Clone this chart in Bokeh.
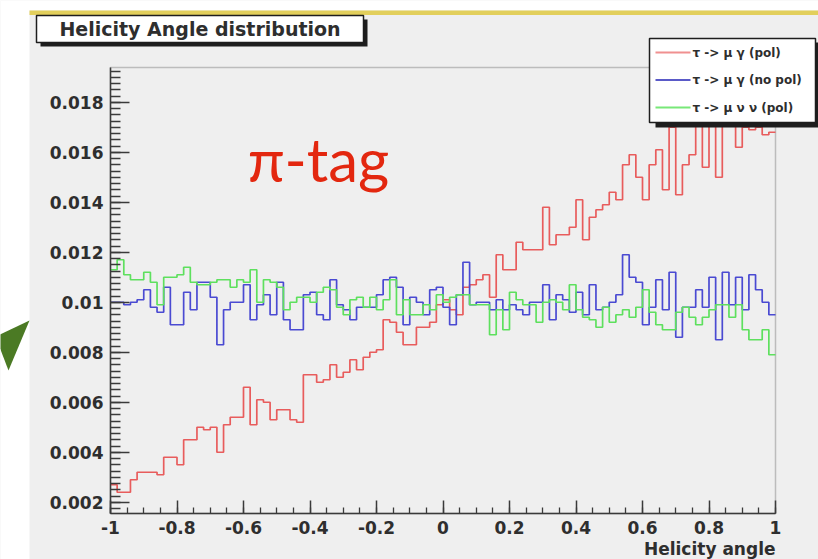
from bokeh.plotting import figure
from bokeh.models import (Range1d, FixedTicker, CustomJSTickFormatter, BoxAnnotation,
                          Label, PolyAnnotation)
from bokeh.embed import file_html
from bokeh.resources import INLINE

# Helicity angle histograms, 100 bins on [-1, 1], normalised to unit area
n_bins = 100
x_lo, x_hi = -1.0, 1.0
y_lo, y_hi = 0.00155, 0.01939

mu_gamma_pol = [
    0.0027, 0.0024, 0.0024, 0.0029, 0.0032, 0.0032, 0.0032, 0.0031, 0.0038, 0.0038,
    0.0035, 0.0045, 0.0045, 0.0050, 0.0049, 0.0050, 0.0040, 0.0051, 0.0054, 0.0054,
    0.0066, 0.0051, 0.0061, 0.0060, 0.0053, 0.0057, 0.0057, 0.0053, 0.0052, 0.0071,
    0.0071, 0.0068, 0.0069, 0.0075, 0.0070, 0.0072, 0.0077, 0.0073, 0.0078, 0.0080,
    0.0081, 0.0093, 0.0092, 0.0088, 0.0083, 0.0083, 0.0090, 0.0090, 0.0092, 0.0099,
    0.0101, 0.0097, 0.0095, 0.0106, 0.0107, 0.0109, 0.0111, 0.0102, 0.0119, 0.0113,
    0.0113, 0.0124, 0.0121, 0.0121, 0.0121, 0.0138, 0.0123, 0.0127, 0.0127, 0.0130,
    0.0141, 0.0125, 0.0134, 0.0137, 0.0139, 0.0144, 0.0141, 0.0155, 0.0159, 0.0150,
    0.0141, 0.0155, 0.0161, 0.0145, 0.0170, 0.0143, 0.0155, 0.0159, 0.0172, 0.0154,
    0.0174, 0.0150, 0.0178, 0.0176, 0.0162, 0.0170, 0.0169, 0.0170, 0.0167, 0.0168,
]

mu_gamma_nopol = [
    0.0100, 0.0100, 0.0099, 0.0100, 0.0101, 0.0105, 0.0098, 0.0096, 0.0106, 0.0091,
    0.0091, 0.0104, 0.0097, 0.0108, 0.0108, 0.0102, 0.0083, 0.0097, 0.0100, 0.0100,
    0.0107, 0.0093, 0.0099, 0.0103, 0.0095, 0.0108, 0.0093, 0.0089, 0.0089, 0.0103,
    0.0104, 0.0095, 0.0093, 0.0109, 0.0099, 0.0097, 0.0093, 0.0098, 0.0098, 0.0098,
    0.0103, 0.0109, 0.0110, 0.0106, 0.0091, 0.0102, 0.0100, 0.0095, 0.0105, 0.0106,
    0.0098, 0.0091, 0.0103, 0.0116, 0.0099, 0.0100, 0.0100, 0.0097, 0.0101, 0.0097,
    0.0099, 0.0097, 0.0095, 0.0100, 0.0100, 0.0107, 0.0093, 0.0103, 0.0101, 0.0096,
    0.0104, 0.0095, 0.0107, 0.0097, 0.0098, 0.0100, 0.0103, 0.0119, 0.0110, 0.0108,
    0.0091, 0.0098, 0.0109, 0.0097, 0.0112, 0.0086, 0.0098, 0.0098, 0.0105, 0.0098,
    0.0110, 0.0085, 0.0112, 0.0099, 0.0110, 0.0097, 0.0111, 0.0105, 0.0100, 0.0095,
]

mu_nunu_pol = [
    0.0113, 0.0117, 0.0111, 0.0109, 0.0109, 0.0112, 0.0108, 0.0099, 0.0110, 0.0110,
    0.0111, 0.0114, 0.0108, 0.0107, 0.0107, 0.0108, 0.0109, 0.0109, 0.0106, 0.0109,
    0.0108, 0.0113, 0.0100, 0.0109, 0.0108, 0.0106, 0.0097, 0.0100, 0.0102, 0.0102,
    0.0100, 0.0104, 0.0106, 0.0105, 0.0098, 0.0095, 0.0101, 0.0102, 0.0098, 0.0102,
    0.0097, 0.0101, 0.0109, 0.0095, 0.0101, 0.0095, 0.0095, 0.0099, 0.0097, 0.0103,
    0.0100, 0.0102, 0.0103, 0.0103, 0.0099, 0.0099, 0.0099, 0.0087, 0.0097, 0.0089,
    0.0104, 0.0101, 0.0099, 0.0099, 0.0092, 0.0100, 0.0101, 0.0100, 0.0097, 0.0107,
    0.0097, 0.0094, 0.0093, 0.0090, 0.0098, 0.0092, 0.0095, 0.0097, 0.0094, 0.0098,
    0.0105, 0.0096, 0.0091, 0.0089, 0.0089, 0.0096, 0.0098, 0.0094, 0.0091, 0.0094,
    0.0097, 0.0099, 0.0099, 0.0094, 0.0099, 0.0089, 0.0085, 0.0085, 0.0089, 0.0079,
]

series_labels = ["\u03c4 -> \u03bc \u03b3 (pol)",
                 "\u03c4 -> \u03bc \u03b3 (no pol)",
                 "\u03c4 -> \u03bc \u03bd \u03bd (pol)"]
series_colors = ["#e85c5c", "#4a4ad2", "#5ee05e"]
legend_colors = ["#f09090", "#5a5ac8", "#78e878"]

x_ticks = [-1.0, -0.8, -0.6, -0.4, -0.2, 0.0, 0.2, 0.4, 0.6, 0.8, 1.0]
y_ticks = [0.002, 0.004, 0.006, 0.008, 0.010, 0.012, 0.014, 0.016, 0.018]

edges = [x_lo + (x_hi - x_lo) * i / n_bins for i in range(n_bins + 1)]

# page geometry: the canvas is one big frame, the histogram pad sits inside it
W, H = 818, 559
PAD_L, PAD_R, PAD_T, PAD_B = 110, 775, 67, 513
sx = (PAD_R - PAD_L) / (x_hi - x_lo)
sy = (PAD_B - PAD_T) / (y_hi - y_lo)
view_x = (x_lo - PAD_L / sx, x_hi + (W - PAD_R) / sx)
view_y = (y_lo - (H - PAD_B) / sy, y_hi + PAD_T / sy)

BG = "#efefef"
TXT = "#2e2e2e"
AX = "#3a3a3a"
FONT = "DejaVu Sans"

p = figure(width=W, height=H,
           x_range=Range1d(*view_x), y_range=Range1d(*view_y),
           output_backend="svg", toolbar_location=None,
           min_border_left=0, min_border_right=0,
           min_border_top=0, min_border_bottom=0)
p.background_fill_color = BG
p.border_fill_color = BG
p.outline_line_color = None
p.grid.visible = False

# histogram outlines
for vals, col in zip([mu_gamma_pol, mu_gamma_nopol, mu_nunu_pol], series_colors):
    p.step(edges, vals + [vals[-1]], mode="after", line_color=col, line_width=1.7)

# pad frame (top and right edges visible; left and bottom carry the axes)
p.add_layout(BoxAnnotation(left=x_lo, right=x_hi, bottom=y_lo, top=y_hi,
                           fill_alpha=0.0, line_color="#474747", line_width=1.5,
                           level="underlay"))

# axes in the ROOT style: ticks pointing into the pad
p.xaxis.fixed_location = y_lo
p.yaxis.fixed_location = x_lo
p.xaxis.bounds = (x_lo, x_hi)
p.yaxis.bounds = (y_lo, y_hi)
p.xaxis.ticker = FixedTicker(ticks=x_ticks,
                             minor_ticks=[x_lo + 0.05 * i for i in range(41)])
p.yaxis.ticker = FixedTicker(ticks=y_ticks,
                             minor_ticks=[0.00175 + 0.00025 * i for i in range(71)])
p.xaxis.formatter = CustomJSTickFormatter(code="return String(Math.round(tick*10)/10);")
p.yaxis.formatter = CustomJSTickFormatter(code="return String(Math.round(tick*1000)/1000);")

for ax in (p.xaxis, p.yaxis):
    ax.axis_line_color = AX
    ax.axis_line_width = 1.5
    ax.major_tick_line_color = AX
    ax.minor_tick_line_color = AX
    ax.major_tick_line_width = 1.5
    ax.minor_tick_line_width = 1.3
    ax.major_tick_out = 0
    ax.minor_tick_out = 0
    ax.major_label_text_font = FONT
    ax.major_label_text_font_style = "bold"
    ax.major_label_text_font_size = "17px"
    ax.major_label_text_color = TXT

p.yaxis.major_tick_in = 19
p.yaxis.minor_tick_in = 10
p.yaxis.major_label_standoff = 7
p.xaxis.major_tick_in = 13
p.xaxis.minor_tick_in = 6
p.xaxis.major_label_standoff = 7


def box(l, t, r, b, fill, line=None, lw=1.5, level="annotation"):
    bx = BoxAnnotation(left=l, right=r, top=t, bottom=b,
                       left_units="canvas", right_units="canvas",
                       top_units="canvas", bottom_units="canvas",
                       fill_color=fill, fill_alpha=1.0,
                       line_color=line, line_width=lw, line_alpha=1.0 if line else 0.0,
                       level=level)
    p.add_layout(bx)


def label(x, y, text, size, align="left", color=TXT, font=FONT, style="bold",
          baseline="middle"):
    p.add_layout(Label(x=x, y=y, x_units="canvas", y_units="canvas", text=text,
                       text_font=font, text_font_style=style, text_font_size=size,
                       text_color=color, text_align=align, text_baseline=baseline))


# surrounding page: white margin, yellow rule, green arrow head
box(0, 0, 29, H, "#ffffff")
box(0, 0, W, 10, "#ffffff")
box(29, 10, W, 14.5, "#e2cf5c")
p.add_layout(PolyAnnotation(xs=[-5, 29, 8], ys=[336, 320, 370],
                            xs_units="canvas", ys_units="canvas",
                            fill_color="#4b7a24", fill_alpha=1.0, line_alpha=0.0))

# title box with drop shadow
box(40, 19, 367, 46, "#1e1e1e")
box(36, 15, 363, 42, "#ffffff", line="#1e1e1e")
label(199.5, 28.5, "Helicity Angle distribution", "19px", align="center")

# legend box with drop shadow
box(655, 42, W, 127, "#1e1e1e")
box(649, 38, 815, 122, "#ffffff", line="#1e1e1e")
for i, (txt, col) in enumerate(zip(series_labels, legend_colors)):
    yc = 52 + 27.5 * i
    box(655, yc - 1, 690, yc + 1, col)
    label(692, yc, txt, "12px")

# x axis title, right aligned at the pad edge
label(PAD_R, 548, "Helicity angle", "17px", align="right")

# tag in the upper left of the pad
label(318, 158, "\u03c0-tag", "60px", align="center", color="#e3270f",
      font="Lato", style="normal", baseline="alphabetic")

open("out.html", "w").write(file_html(p, INLINE))
